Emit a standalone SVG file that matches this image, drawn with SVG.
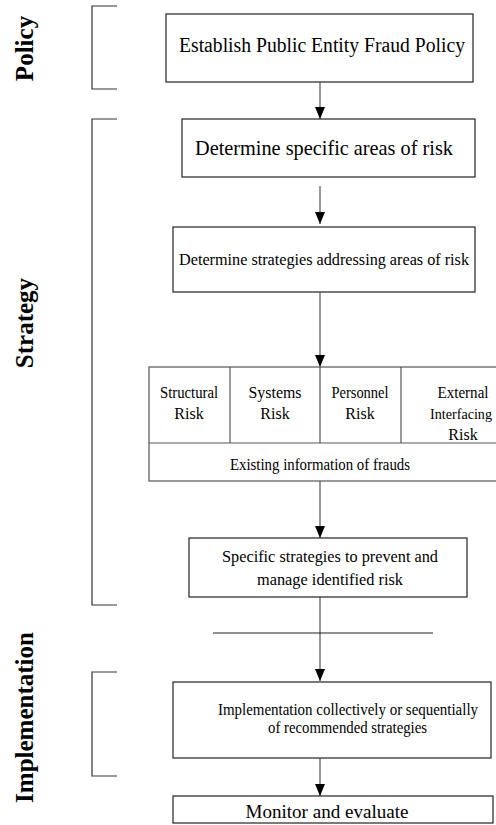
<svg xmlns="http://www.w3.org/2000/svg" width="496" height="825" viewBox="0 0 496 825">
<style>
.box{fill:#fff;stroke:#222;stroke-width:1.2}
.tbl{fill:#fff;stroke:#555;stroke-width:1.2}
.con{stroke:#555;stroke-width:1.2;fill:none}
.brk{stroke:#333;stroke-width:1.2;fill:none}
.t{font-family:"Liberation Serif","Times New Roman",serif;fill:#000;text-anchor:middle}
.side{font-family:"Liberation Serif","Times New Roman",serif;font-weight:bold;font-size:25px;fill:#000;text-anchor:middle}
</style>
<defs>
<marker id="ah" markerWidth="12" markerHeight="10" refX="12" refY="5" orient="auto" markerUnits="userSpaceOnUse" viewBox="0 0 12 10">
<path d="M0,0 L12,5 L0,10 Z" fill="#000"/>
</marker>
</defs>

<g id="side-labels">
<text class="side" transform="translate(33,48.5) rotate(-90)">Policy</text>
<text class="side" transform="translate(33,323) rotate(-90)">Strategy</text>
<text class="side" transform="translate(33,717.5) rotate(-90)">Implementation</text>
</g>

<g id="brackets">
<path class="brk" d="M117,6 H92 V89 H117"/>
<path class="brk" d="M117,119 H92 V605 H117"/>
<path class="brk" d="M117,672 H92 V776 H117"/>
</g>

<g id="connectors">
<line class="con" x1="320" y1="82" x2="320" y2="119" marker-end="url(#ah)"/>
<line class="con" x1="320" y1="186" x2="320" y2="224" marker-end="url(#ah)"/>
<line class="con" x1="320" y1="292" x2="320" y2="367" marker-end="url(#ah)"/>
<line class="con" x1="320" y1="481" x2="320" y2="538" marker-end="url(#ah)"/>
<line class="con" x1="320" y1="597" x2="320" y2="681" marker-end="url(#ah)"/>
<line class="con" x1="213" y1="633" x2="433" y2="633" style="stroke:#222"/>
<line class="con" x1="320" y1="758" x2="320" y2="796" marker-end="url(#ah)"/>
</g>

<g id="node-policy">
<rect class="box" x="166" y="14" width="307" height="68"/>
<text class="t" x="322" y="52" font-size="20" textLength="286" lengthAdjust="spacingAndGlyphs">Establish Public Entity Fraud Policy</text>
</g>

<g id="node-areas">
<rect class="box" x="182" y="119" width="293" height="58"/>
<text class="t" x="324" y="155" font-size="21" textLength="258" lengthAdjust="spacingAndGlyphs">Determine specific areas of risk</text>
</g>

<g id="node-strategies">
<rect class="box" x="173" y="227" width="302" height="65"/>
<text class="t" x="324" y="265" font-size="16" textLength="290" lengthAdjust="spacingAndGlyphs">Determine strategies addressing areas of risk</text>
</g>

<g id="node-risks">
<rect class="tbl" x="149" y="367" width="378" height="114"/>
<line class="con" x1="149" y1="443" x2="527" y2="443"/>
<line class="con" x1="230" y1="367" x2="230" y2="443"/>
<line class="con" x1="320" y1="367" x2="320" y2="443"/>
<line class="con" x1="401" y1="367" x2="401" y2="443"/>
<text class="t" x="189" y="398" font-size="16" textLength="58" lengthAdjust="spacingAndGlyphs">Structural</text>
<text class="t" x="189" y="419" font-size="16">Risk</text>
<text class="t" x="275" y="398" font-size="16" textLength="53" lengthAdjust="spacingAndGlyphs">Systems</text>
<text class="t" x="275" y="419" font-size="16">Risk</text>
<text class="t" x="360" y="398" font-size="16" textLength="57" lengthAdjust="spacingAndGlyphs">Personnel</text>
<text class="t" x="360" y="419" font-size="16">Risk</text>
<text class="t" x="463" y="398" font-size="16" textLength="51" lengthAdjust="spacingAndGlyphs">External</text>
<text class="t" x="461" y="419" font-size="15" textLength="62" lengthAdjust="spacingAndGlyphs">Interfacing</text>
<text class="t" x="463" y="440" font-size="16">Risk</text>
<text class="t" x="320" y="470" font-size="16" textLength="180" lengthAdjust="spacingAndGlyphs">Existing information of frauds</text>
</g>

<g id="node-specific">
<rect class="box" x="189" y="538" width="278" height="59"/>
<text class="t" x="330" y="562" font-size="17" textLength="216" lengthAdjust="spacingAndGlyphs">Specific strategies to prevent and</text>
<text class="t" x="330" y="585" font-size="17" textLength="146" lengthAdjust="spacingAndGlyphs">manage identified risk</text>
</g>

<g id="node-implementation">
<rect class="box" x="173" y="682" width="318" height="76"/>
<text class="t" x="348" y="715" font-size="16" textLength="260" lengthAdjust="spacingAndGlyphs">Implementation collectively or sequentially</text>
<text class="t" x="347.5" y="733" font-size="16" textLength="159" lengthAdjust="spacingAndGlyphs">of recommended strategies</text>
</g>

<g id="node-monitor">
<rect class="box" x="173" y="796" width="320" height="27"/>
<text class="t" x="327" y="818" font-size="19" textLength="163" lengthAdjust="spacingAndGlyphs">Monitor and evaluate</text>
</g>
</svg>
